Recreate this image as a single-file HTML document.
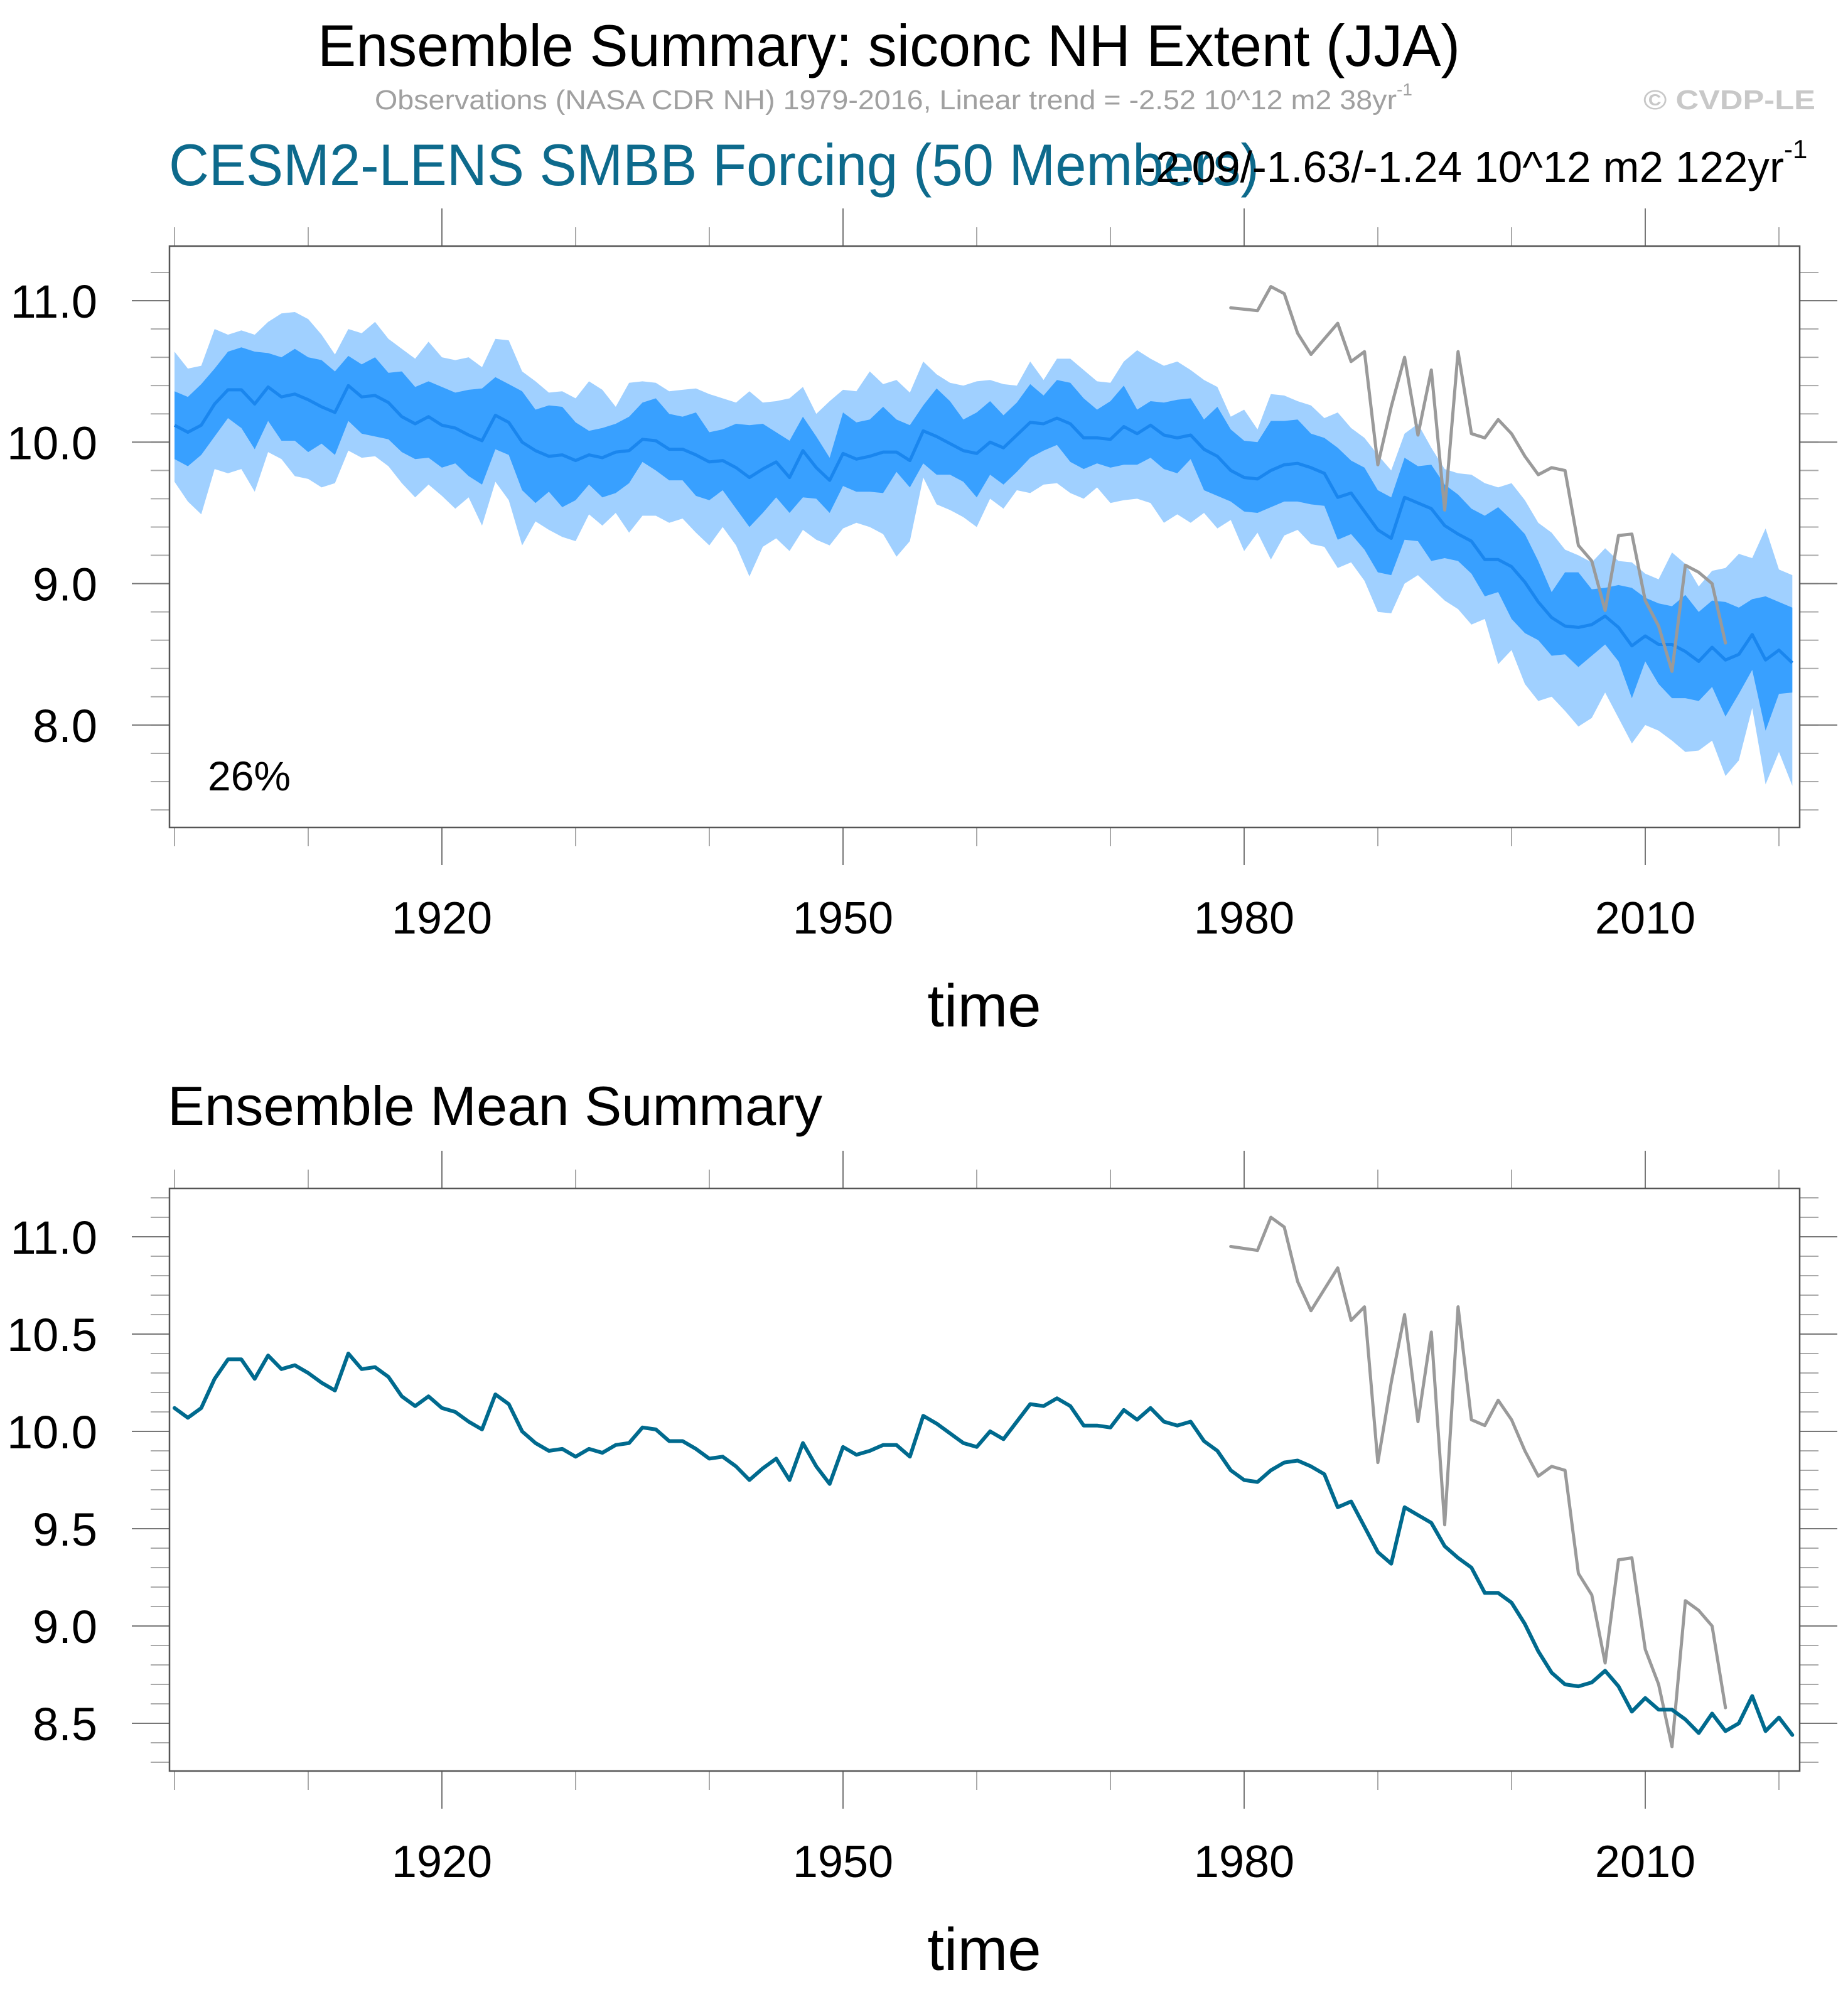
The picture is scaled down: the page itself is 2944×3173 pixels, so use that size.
<!DOCTYPE html>
<html><head><meta charset="utf-8"><title>Ensemble Summary: siconc NH Extent (JJA)</title>
<style>
html,body{margin:0;padding:0;background:#fff;}
svg{display:block;font-family:"Liberation Sans",Arial,sans-serif;}
</style></head>
<body>
<svg id="chart" xmlns="http://www.w3.org/2000/svg" width="2944" height="3173" viewBox="0 0 2944 3173">
<rect x="0" y="0" width="2944" height="3173" fill="#fff"/>
<text x="506" y="105" font-size="94" textLength="1820" lengthAdjust="spacingAndGlyphs" fill="#000">Ensemble Summary: siconc NH Extent (JJA)</text>
<text x="597" y="174" font-size="44" fill="#a0a0a0"><tspan textLength="1628" lengthAdjust="spacingAndGlyphs">Observations (NASA CDR NH) 1979-2016, Linear trend = -2.52 10^12 m2 38yr</tspan><tspan font-size="28" dy="-22">-1</tspan></text>
<text x="2618" y="174" font-size="44" font-weight="bold" fill="#c8c8c8" textLength="274" lengthAdjust="spacingAndGlyphs">© CVDP-LE</text>
<text x="269" y="295" font-size="94" fill="#0d6a8c" textLength="1737" lengthAdjust="spacingAndGlyphs">CESM2-LENS SMBB Forcing (50 Members)</text>
<text x="1818" y="290" font-size="70" fill="#000"><tspan textLength="1024" lengthAdjust="spacingAndGlyphs">-2.09/-1.63/-1.24 10^12 m2 122yr</tspan><tspan font-size="42" dy="-38">-1</tspan></text>
<g id="p1"></g>
<text x="267" y="1792" font-size="88" fill="#000" textLength="1043" lengthAdjust="spacingAndGlyphs">Ensemble Mean Summary</text>
<g id="p2"></g>
</svg>
<script>
const years = []; for (let y = 1900; y <= 2021; y++) years.push(y);
const obsYears = []; for (let y = 1979; y <= 2016; y++) obsYears.push(y);

const ensMean = [10.12,10.07,10.12,10.27,10.37,10.37,10.27,10.39,10.32,10.34,
10.30,10.25,10.21,10.40,10.32,10.33,10.28,10.18,10.13,10.18,
10.12,10.10,10.05,10.01,10.19,10.14,10.00,9.94,9.90,9.91,
9.87,9.91,9.89,9.93,9.94,10.02,10.01,9.95,9.95,9.91,
9.86,9.87,9.82,9.75,9.81,9.86,9.75,9.94,9.82,9.73,
9.92,9.88,9.90,9.93,9.93,9.87,10.08,10.04,9.99,9.94,
9.92,10.00,9.96,10.05,10.14,10.13,10.17,10.13,10.03,10.03,
10.02,10.11,10.06,10.12,10.05,10.03,10.05,9.95,9.90,9.80,
9.75,9.74,9.80,9.84,9.85,9.82,9.78,9.61,9.64,9.51,
9.38,9.32,9.61,9.57,9.53,9.41,9.35,9.30,9.17,9.17,
9.12,9.01,8.87,8.76,8.70,8.69,8.71,8.77,8.69,8.56,
8.63,8.57,8.57,8.52,8.45,8.55,8.46,8.50,8.64,8.46,8.53,8.44];

const obsValues = [10.95,10.94,10.93,11.10,11.05,10.77,10.62,10.73,10.84,10.57,
10.64,9.84,10.25,10.60,10.05,10.51,9.52,10.64,10.06,10.03,
10.16,10.06,9.90,9.77,9.82,9.80,9.27,9.16,8.81,9.34,
9.35,8.88,8.70,8.38,9.13,9.08,9.00,8.58];

const outerHigh = [10.64,10.52,10.54,10.80,10.76,10.79,10.76,10.85,10.91,10.92,
10.87,10.76,10.62,10.80,10.77,10.85,10.73,10.66,10.59,10.71,
10.60,10.58,10.60,10.53,10.73,10.72,10.50,10.43,10.35,10.36,
10.31,10.43,10.37,10.25,10.42,10.43,10.42,10.36,10.37,10.38,
10.34,10.31,10.28,10.36,10.28,10.29,10.31,10.39,10.20,10.29,
10.37,10.36,10.50,10.41,10.44,10.35,10.57,10.48,10.42,10.40,
10.43,10.44,10.41,10.40,10.57,10.44,10.59,10.59,10.51,10.43,
10.42,10.57,10.65,10.59,10.54,10.57,10.51,10.44,10.39,10.18,
10.23,10.09,10.34,10.33,10.29,10.26,10.17,10.21,10.10,10.03,
9.91,9.80,10.06,10.13,9.96,9.81,9.78,9.77,9.71,9.68,
9.71,9.59,9.43,9.36,9.24,9.20,9.15,9.25,9.16,9.15,
9.07,9.03,9.22,9.14,8.98,9.09,9.11,9.21,9.18,9.39,9.10,9.06];

const innerHigh = [10.36,10.32,10.41,10.52,10.64,10.67,10.64,10.63,10.60,10.66,
10.60,10.58,10.50,10.61,10.55,10.60,10.49,10.50,10.39,10.43,
10.39,10.35,10.37,10.38,10.46,10.41,10.36,10.23,10.26,10.25,
10.14,10.08,10.10,10.13,10.18,10.28,10.31,10.20,10.18,10.21,
10.07,10.09,10.13,10.12,10.13,10.07,10.01,10.18,10.04,9.89,
10.21,10.14,10.16,10.25,10.16,10.12,10.26,10.38,10.29,10.16,
10.21,10.29,10.19,10.28,10.41,10.33,10.44,10.42,10.31,10.23,
10.29,10.40,10.23,10.29,10.28,10.30,10.31,10.16,10.25,10.09,
10.01,10.00,10.15,10.15,10.16,10.06,10.03,9.96,9.87,9.82,
9.66,9.61,9.89,9.83,9.84,9.70,9.63,9.53,9.48,9.54,
9.45,9.35,9.16,8.94,9.08,9.08,8.96,8.97,8.99,8.97,
8.90,8.86,8.84,8.92,8.80,8.88,8.87,8.83,8.89,8.91,8.87,8.83];

const innerLow = [9.88,9.83,9.91,10.04,10.17,10.10,9.95,10.15,10.01,10.01,
9.93,9.99,9.91,10.15,10.06,10.04,10.02,9.93,9.88,9.89,
9.82,9.85,9.76,9.70,9.95,9.91,9.66,9.57,9.65,9.54,
9.59,9.70,9.61,9.64,9.71,9.86,9.80,9.73,9.73,9.62,
9.59,9.66,9.53,9.40,9.50,9.61,9.50,9.61,9.60,9.50,
9.69,9.65,9.65,9.64,9.79,9.68,9.85,9.77,9.77,9.72,
9.61,9.77,9.70,9.79,9.89,9.94,9.98,9.86,9.81,9.85,
9.82,9.84,9.84,9.89,9.81,9.78,9.88,9.66,9.62,9.58,
9.51,9.50,9.54,9.58,9.58,9.56,9.55,9.31,9.35,9.24,
9.08,9.06,9.31,9.30,9.16,9.18,9.16,9.07,8.91,8.94,
8.75,8.65,8.60,8.49,8.50,8.41,8.49,8.57,8.45,8.19,
8.45,8.29,8.19,8.19,8.17,8.27,8.06,8.22,8.39,7.96,8.22,8.23];

const outerLow = [9.72,9.58,9.49,9.81,9.78,9.81,9.65,9.93,9.88,9.76,
9.74,9.68,9.71,9.94,9.89,9.90,9.83,9.71,9.61,9.70,
9.62,9.53,9.61,9.41,9.72,9.59,9.27,9.44,9.38,9.33,
9.30,9.49,9.41,9.50,9.36,9.48,9.48,9.43,9.46,9.36,
9.27,9.40,9.27,9.05,9.26,9.32,9.23,9.38,9.31,9.27,
9.39,9.43,9.40,9.35,9.19,9.30,9.75,9.56,9.52,9.47,
9.40,9.60,9.53,9.66,9.64,9.70,9.71,9.64,9.60,9.68,
9.57,9.59,9.60,9.57,9.43,9.49,9.43,9.50,9.39,9.45,
9.23,9.36,9.17,9.34,9.38,9.28,9.26,9.11,9.15,9.02,
8.80,8.79,9.00,9.06,8.97,8.88,8.82,8.71,8.75,8.43,
8.53,8.29,8.17,8.20,8.10,7.99,8.05,8.23,8.05,7.87,
8.00,7.96,7.89,7.81,7.82,7.89,7.64,7.75,8.12,7.58,7.81,7.57];

const xMajorTicks = [1920,1950,1980,2010];
const xTickLabels = ["1920","1950","1980","2010"];
const p1MajorY = [8.0,9.0,10.0,11.0];
const p1YLabels = ["8.0","9.0","10.0","11.0"];
const p2MajorY = [8.5,9.0,9.5,10.0,10.5,11.0];
const p2YLabels = ["8.5","9.0","9.5","10.0","10.5","11.0"];

const NS = "http://www.w3.org/2000/svg";
const L = 270, R = 2867;
function xs(yr){ return 278 + (yr - 1900) * 21.3; }
function mk(parent, tag, attrs){ const e = document.createElementNS(NS, tag); for (const k in attrs) e.setAttribute(k, attrs[k]); parent.appendChild(e); return e; }

function drawAxes(g, T, B, ys, majorY, yLabels, minorStep, minorMin, minorMax, labelYOffset){
  // x ticks
  for (let yr = 1900; yr <= 2020; yr += 10) {
    const major = xMajorTicks.indexOf(yr) >= 0;
    const len = major ? 60 : 30;
    const t1 = mk(g, "line", {x1: xs(yr), x2: xs(yr), y1: B, y2: B + len, stroke: major ? "#777" : "#aaa", "stroke-width": 2});
    
    
    const t2 = mk(g, "line", {x1: xs(yr), x2: xs(yr), y1: T, y2: T - len, stroke: major ? "#777" : "#aaa", "stroke-width": 2});
    
    
  }
  xMajorTicks.forEach((yr, i) => {
    const t = mk(g, "text", {x: xs(yr), y: B + 169, "font-size": 72, "text-anchor": "middle", fill: "#000"});
    t.textContent = xTickLabels[i];
    
    
  });
  const xt = mk(g, "text", {x: 1568, y: B + 317, "font-size": 96, "text-anchor": "middle", fill: "#000"});
  xt.textContent = "time";
  
  
  // y minor ticks
  for (let v = minorMin; v <= minorMax + 1e-6; v += minorStep) {
    const yy = ys(v);
    const a = mk(g, "line", {x1: L - 30, x2: L, y1: yy, y2: yy, stroke: "#aaa", "stroke-width": 2});
    
    
    const b = mk(g, "line", {x1: R, x2: R + 30, y1: yy, y2: yy, stroke: "#aaa", "stroke-width": 2});
    
    
  }
  majorY.forEach((v, i) => {
    const yy = ys(v);
    const a = mk(g, "line", {x1: L - 60, x2: L, y1: yy, y2: yy, stroke: "#777", "stroke-width": 2});
    
    
    const b = mk(g, "line", {x1: R, x2: R + 60, y1: yy, y2: yy, stroke: "#777", "stroke-width": 2});
    
    
    const t = mk(g, "text", {x: 155, y: yy + 27, "font-size": 74, "text-anchor": "end", fill: "#000"});
    t.textContent = yLabels[i];
    
    
  });
  const box = mk(g, "rect", {x: L, y: T, width: R - L, height: B - T, fill: "none", stroke: "#555", "stroke-width": 2.5});
  
  
}

function bandPath(hi, lo, ys){
  let d = "";
  years.forEach((yr, i) => { d += (i ? "L" : "M") + xs(yr).toFixed(1) + "," + ys(hi[i]).toFixed(1); });
  for (let i = years.length - 1; i >= 0; i--) d += "L" + xs(years[i]).toFixed(1) + "," + ys(lo[i]).toFixed(1);
  return d + "Z";
}
function linePath(xv, yv, ys){
  return xv.map((yr, i) => (i ? "L" : "M") + xs(yr).toFixed(1) + "," + ys(yv[i]).toFixed(1)).join("");
}

// Panel 1
const g1 = document.getElementById("p1");
const T1 = 392, B1 = 1318;
function y1(v){ return 479 + (11 - v) * 225.3; }
const ob = mk(g1, "path", {d: bandPath(outerHigh, outerLow, y1), fill: "#a0d0ff"});


const ib = mk(g1, "path", {d: bandPath(innerHigh, innerLow, y1), fill: "#38a0ff"});


const ml1 = mk(g1, "path", {d: linePath(years, ensMean, y1), fill: "none", stroke: "#1a86ee", "stroke-width": 5, "stroke-linejoin": "round"});


const ol1 = mk(g1, "path", {d: linePath(obsYears, obsValues, y1), fill: "none", stroke: "#9a9a9a", "stroke-width": 5, "stroke-linejoin": "round", "stroke-linecap": "round"});


drawAxes(g1, T1, B1, y1, p1MajorY, p1YLabels, 0.2, 7.4, 11.2);
const pct = mk(g1, "text", {x: 331, y: 1259, "font-size": 66, fill: "#000"});
pct.textContent = "26%";



// Panel 2
const g2 = document.getElementById("p2");
const T2 = 1893, B2 = 2821;
function y2(v){ return 1970 + (11 - v) * 310; }
const ol2 = mk(g2, "path", {d: linePath(obsYears, obsValues, y2), fill: "none", stroke: "#9a9a9a", "stroke-width": 5, "stroke-linejoin": "round", "stroke-linecap": "round"});


const ml2 = mk(g2, "path", {d: linePath(years, ensMean, y2), fill: "none", stroke: "#006a8e", "stroke-width": 6, "stroke-linejoin": "round", "stroke-linecap": "round"});


drawAxes(g2, T2, B2, y2, p2MajorY, p2YLabels, 0.1, 8.3, 11.2);
</script>
</body></html>
